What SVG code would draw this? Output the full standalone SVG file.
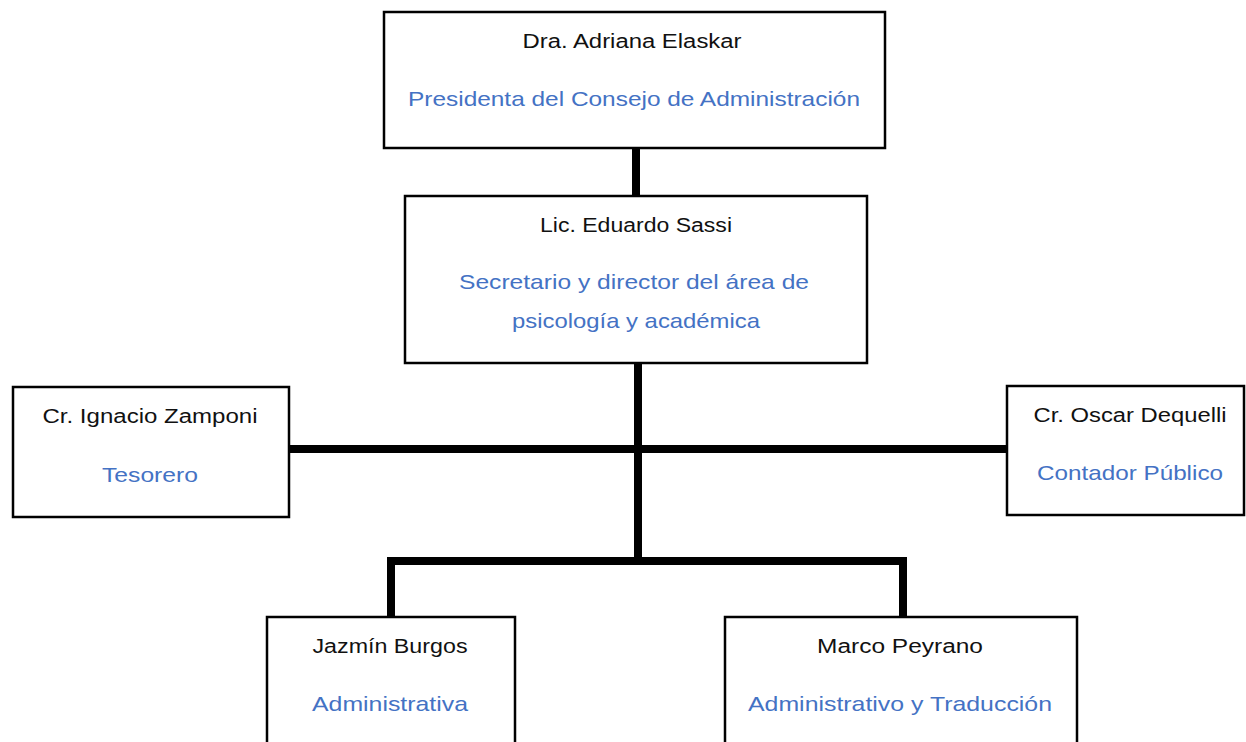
<svg xmlns="http://www.w3.org/2000/svg" width="1246" height="742" viewBox="0 0 1246 742">
<style>
.box{fill:#ffffff;stroke:#000000;stroke-width:2.5}
.name{font-family:"Liberation Sans",Arial,sans-serif;font-size:20px;fill:#111111;text-anchor:middle}
.role{font-family:"Liberation Sans",Arial,sans-serif;font-size:21px;fill:#4472C4;text-anchor:middle}
.conn{fill:none;stroke:#000000;stroke-width:8;stroke-linejoin:miter}
</style>
<rect width="1246" height="742" fill="#ffffff"/>
<g id="connectors">
<line class="conn" x1="636" y1="148" x2="636" y2="197"/>
<line class="conn" x1="638" y1="363" x2="638" y2="561"/>
<line class="conn" x1="289" y1="449" x2="1007" y2="449"/>
<polyline class="conn" points="391,617 391,561 903,561 903,617"/>
</g>
<g id="node-elaskar">
<rect class="box" x="384" y="12" width="501" height="136"/>
<text class="name" x="632" y="48" textLength="219" lengthAdjust="spacingAndGlyphs">Dra. Adriana Elaskar</text>
<text class="role" x="634" y="106" textLength="452" lengthAdjust="spacingAndGlyphs">Presidenta del Consejo de Administración</text>
</g>
<g id="node-sassi">
<rect class="box" x="405" y="196" width="462" height="167"/>
<text class="name" x="636" y="232" textLength="192" lengthAdjust="spacingAndGlyphs">Lic. Eduardo Sassi</text>
<text class="role" x="634" y="289" textLength="350" lengthAdjust="spacingAndGlyphs">Secretario y director del área de</text>
<text class="role" x="636" y="328" textLength="248" lengthAdjust="spacingAndGlyphs">psicología y académica</text>
</g>
<g id="node-zamponi">
<rect class="box" x="13" y="387" width="276" height="130"/>
<text class="name" x="150" y="423" textLength="215" lengthAdjust="spacingAndGlyphs">Cr. Ignacio Zamponi</text>
<text class="role" x="150" y="482" textLength="96" lengthAdjust="spacingAndGlyphs">Tesorero</text>
</g>
<g id="node-dequelli">
<rect class="box" x="1007" y="386" width="237" height="129"/>
<text class="name" x="1130" y="422" textLength="193" lengthAdjust="spacingAndGlyphs">Cr. Oscar Dequelli</text>
<text class="role" x="1130" y="480" textLength="186" lengthAdjust="spacingAndGlyphs">Contador Público</text>
</g>
<g id="node-burgos">
<rect class="box" x="267" y="617" width="248" height="140"/>
<text class="name" x="390" y="653" textLength="155" lengthAdjust="spacingAndGlyphs">Jazmín Burgos</text>
<text class="role" x="390" y="711" textLength="156" lengthAdjust="spacingAndGlyphs">Administrativa</text>
</g>
<g id="node-peyrano">
<rect class="box" x="725" y="617" width="352" height="140"/>
<text class="name" x="900" y="653" textLength="166" lengthAdjust="spacingAndGlyphs">Marco Peyrano</text>
<text class="role" x="900" y="711" textLength="304" lengthAdjust="spacingAndGlyphs">Administrativo y Traducción</text>
</g>
</svg>
